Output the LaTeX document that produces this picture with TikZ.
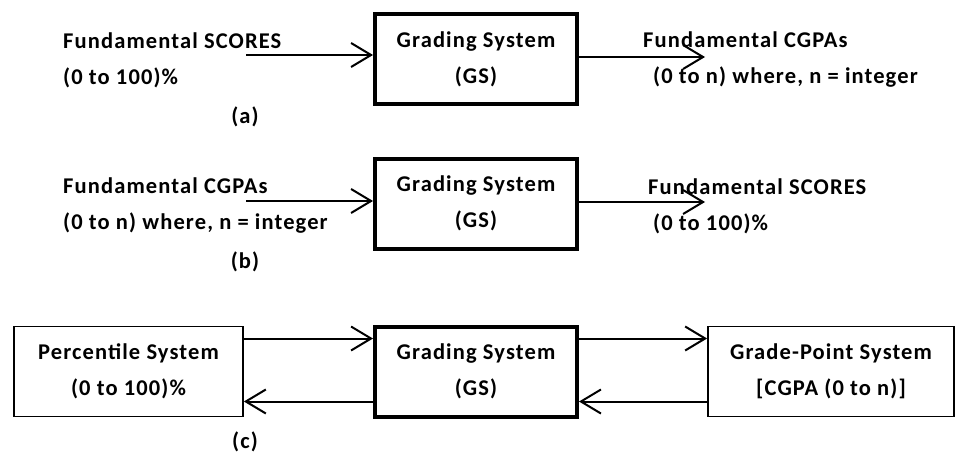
\documentclass[tikz,border=0pt]{standalone}
\usepackage{fontspec}
\setmainfont{Carlito}[LetterSpace = 5]
\usetikzlibrary{arrows.meta}

\tikzset{
    gsbox/.style = {draw, line width = 4pt, minimum width = 202pt, minimum height = 90pt, align = center, inner sep = 0pt},
    sysbox/.style = {draw, line width = 1.8pt, minimum height = 90pt, align = center, inner sep = 0pt},
    lbl/.style = {anchor = west, align = left, inner sep = 0pt},
    conn/.style = {line width = 2pt, -{Straight Barb[length = 20pt, width = 24pt, line width = 2pt]}}
}

\begin{document}
\begin{tikzpicture}[x = 1pt, y = -1pt, font = \fontsize{22.5}{36}\selectfont\bfseries]
    \useasboundingbox [fill = white] (0, 0) rectangle (957, 455);
    % (a) scores -> CGPAs
    \node [gsbox] (gsA) at (476, 59) {Grading System\\(GS)};
    \node [lbl] (scoresA) at (63, 60) {Fundamental SCORES\\(0 to 100)\%};
    \node [lbl] (cgpaA) at (643, 60) {Fundamental CGPAs\\\hspace*{10pt}(0 to n) where, n = integer};
    \node (capA) at (245, 117) {(a)};
    \coordinate (inA) at (246, 55);
    \coordinate (outA) at (705, 57);
    \draw [conn] (inA) -- (inA -| gsA.west);
    \draw [conn] (outA -| gsA.east) -- (outA);
    % (b) CGPAs -> scores
    \node [gsbox] (gsB) at (476, 203.5) {Grading System\\(GS)};
    \node [lbl] (cgpaB) at (63, 206) {Fundamental CGPAs\\(0 to n) where, n = integer};
    \node [lbl] (scoresB) at (648, 206) {Fundamental SCORES\\\hspace*{5pt}(0 to 100)\%};
    \node (capB) at (245, 262) {(b)};
    \coordinate (inB) at (246, 201);
    \coordinate (outB) at (705, 202);
    \draw [conn] (inB) -- (inB -| gsB.west);
    \draw [conn] (outB -| gsB.east) -- (outB);
    % (c) percentile <-> grade-point
    \node [gsbox] (gsC) at (476, 371.5) {Grading System\\(GS)};
    \node [sysbox, minimum width = 229pt] (perc) at (128.5, 371.5) {Percentile System\\(0 to 100)\%};
    \node [sysbox, minimum width = 246pt] (gpoint) at (831, 371.5) {Grade-Point System\\{[CGPA (0 to n)]}};
    \node (capC) at (245, 442) {(c)};
    \draw [conn] ([yshift = 33pt] perc.east) -- ([yshift = 33pt] gsC.west);
    \draw [conn] ([yshift = -30pt] gsC.west) -- ([yshift = -30pt] perc.east);
    \draw [conn] ([yshift = 33pt] gsC.east) -- ([yshift = 33pt] gpoint.west);
    \draw [conn] ([yshift = -30pt] gpoint.west) -- ([yshift = -30pt] gsC.east);
\end{tikzpicture}
\end{document}
